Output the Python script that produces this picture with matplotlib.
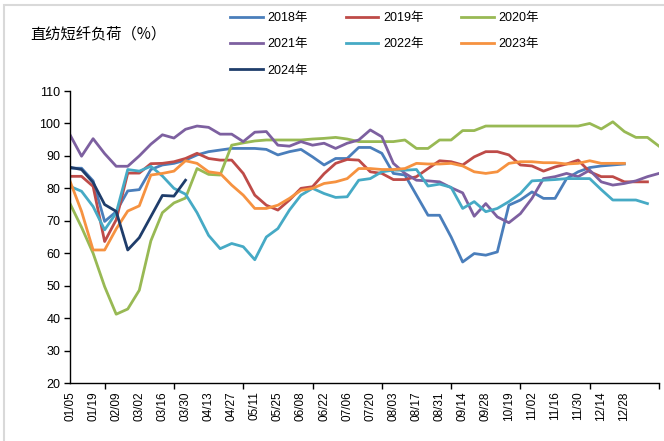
import numpy as np
import matplotlib
matplotlib.use("Agg")
import matplotlib.pyplot as plt
from matplotlib.patches import Rectangle

plt.rcParams['font.family'] = ['Liberation Sans', 'Noto Sans CJK SC', 'DejaVu Sans']

# tick labels, one every 2 weeks (some holiday weeks are missing in the data)
tick_labels = ['01/05', '01/19', '02/09', '03/02', '03/16', '03/30', '04/13', '04/27',
               '05/11', '05/25', '06/08', '06/22', '07/06', '07/20', '08/03', '08/17',
               '08/31', '09/14', '09/28', '10/19', '11/02', '11/16', '11/30', '12/14', '12/28']

y2018 = [86.2, 86.2, 82.3, 69.8, 72.8, 79.2, 79.6, 85.8, 87.2, 87.7, 88.7, 90.3, 91.3,
         91.8, 92.3, 92.3, 92.3, 92.0, 90.3, 91.3, 92.0, 89.7, 87.2, 89.2, 89.2, 92.6,
         92.6, 90.8, 84.6, 84.1, 77.9, 71.7, 71.7, 65.0, 57.3, 59.9, 59.4, 60.4, 74.8,
         76.4, 78.9, 76.9, 76.9, 83.0, 85.1, 86.4, 86.9, 87.2, 87.5]
y2019 = [83.7, 83.7, 80.6, 63.6, 70.3, 84.7, 84.7, 87.6, 87.7, 88.2, 89.2, 90.8, 89.2,
         88.7, 88.7, 84.6, 77.9, 74.8, 73.3, 76.4, 80.0, 80.5, 84.5, 87.7, 88.9, 88.7,
         85.1, 84.6, 82.7, 82.7, 83.6, 86.1, 88.5, 88.2, 87.2, 89.7, 91.3, 91.3, 90.3,
         87.2, 86.9, 85.3, 86.6, 87.5, 88.7, 85.1, 83.6, 83.6, 82.0, 82.0, 82.0]
y2020 = [75.3, 68.0, 60.0, 49.7, 41.2, 42.8, 48.6, 63.8, 72.5, 75.5, 77.0, 86.1, 84.3,
         84.1, 93.3, 94.0, 94.6, 94.9, 94.9, 94.9, 94.9, 95.2, 95.4, 95.7, 95.2, 94.4,
         94.4, 94.4, 94.4, 94.9, 92.3, 92.3, 94.9, 94.9, 97.8, 97.8, 99.2, 99.2, 99.2,
         99.2, 99.2, 99.2, 99.2, 99.2, 99.2, 100.0, 98.3, 100.5, 97.5, 95.7, 95.7, 93.0]
y2021 = [96.5, 89.9, 95.3, 90.7, 86.8, 86.8, 90.0, 93.6, 96.5, 95.5, 98.2, 99.2, 98.8,
         96.7, 96.7, 94.4, 97.3, 97.5, 93.3, 93.0, 94.4, 93.3, 93.9, 92.3, 93.9, 94.9,
         98.0, 95.9, 87.7, 84.6, 82.5, 82.3, 82.0, 80.2, 78.6, 71.4, 75.3, 71.2, 69.4,
         72.2, 76.9, 83.0, 83.6, 84.6, 83.6, 85.6, 82.0, 81.0, 81.5, 82.3, 83.6, 84.6]
y2022 = [80.6, 79.1, 74.4, 67.2, 72.4, 85.8, 85.3, 86.8, 83.8, 80.0, 78.2, 72.5, 65.5,
         61.4, 63.0, 62.0, 58.0, 65.0, 67.6, 73.3, 77.9, 80.0, 78.4, 77.2, 77.4, 82.5,
         83.0, 85.1, 85.6, 85.6, 85.8, 80.7, 81.3, 80.3, 73.8, 75.9, 72.8, 73.8, 75.9,
         78.4, 82.3, 82.5, 82.7, 83.0, 83.0, 83.0, 79.6, 76.4, 76.4, 76.4, 75.3]
y2023 = [82.2, 72.9, 61.0, 61.0, 67.5, 73.0, 74.6, 84.1, 84.6, 85.3, 88.5, 87.7, 85.1,
         84.6, 81.0, 77.9, 73.8, 73.8, 74.8, 76.9, 79.4, 80.0, 81.5, 82.0, 83.0, 86.1,
         86.1, 85.8, 85.8, 86.1, 87.7, 87.5, 87.5, 87.7, 86.9, 85.1, 84.6, 85.1, 87.7,
         88.2, 88.2, 87.9, 87.9, 87.5, 87.7, 88.5, 87.7, 87.7, 87.7]
y2024 = [86.5, 85.8, 81.8, 75.0, 72.9, 61.0, 64.8, 71.3, 77.8, 77.6, 82.5]

series = [
    ('2018年', y2018, '#4A7EBB'),
    ('2019年', y2019, '#BE4B48'),
    ('2020年', y2020, '#98B954'),
    ('2021年', y2021, '#7D60A0'),
    ('2022年', y2022, '#46AAC5'),
    ('2023年', y2023, '#F69240'),
    ('2024年', y2024, '#1F3D6B'),
]

W, H = 664, 441
fig = plt.figure(figsize=(W / 100, H / 100), dpi=100)
fig.patches.append(Rectangle((4 / W, -0.1), 1.2, 1 - 5 / H + 0.1, transform=fig.transFigure,
                             fill=False, edgecolor='#d9d9d9', lw=1.5))

ax = fig.add_axes([70 / W, 1 - 383 / H, (659 - 70) / W, (383 - 91) / H])

lines = {}
for name, vals, col in series:
    x = np.arange(len(vals))
    lines[name], = ax.plot(x, vals, color=col, lw=2.0, label=name, solid_joinstyle='round')

ax.set_xlim(0, 51)
ax.set_ylim(20, 110)
ax.set_yticks(np.arange(20, 111, 10))
ax.tick_params(axis='y', direction='out', length=4, width=1, labelsize=9, pad=3)

ax.set_xticks(np.arange(0, 2 * len(tick_labels), 2))
ax.set_xticklabels(tick_labels, rotation=90, fontsize=8.5)
ax.tick_params(axis='x', which='major', length=0, pad=6)
ax.set_xticks(np.arange(0, 52, 3), minor=True)
ax.tick_params(axis='x', which='minor', direction='out', length=4, width=1)

for s in ['top', 'right']:
    ax.spines[s].set_visible(False)
for s in ['left', 'bottom']:
    ax.spines[s].set_linewidth(1)
    ax.spines[s].set_color('black')

fig.text(30 / W, 1 - 34 / H, '直纺短纤负荷（%）', fontsize=11, va='center', ha='left',
         family=['Noto Sans CJK SC', 'DejaVu Sans'])

order = ['2018年', '2021年', '2024年', '2019年', '2022年', '2020年', '2023年']
fig.legend([lines[n] for n in order], order, ncol=3, loc='upper left',
           bbox_to_anchor=(230 / W, 1 - 12 / H), frameon=False, fontsize=9,
           handlelength=2.6, handletextpad=0.4, columnspacing=3.0,
           labelspacing=1.15, borderpad=0, borderaxespad=0)

fig.savefig('out.png', dpi=100)
